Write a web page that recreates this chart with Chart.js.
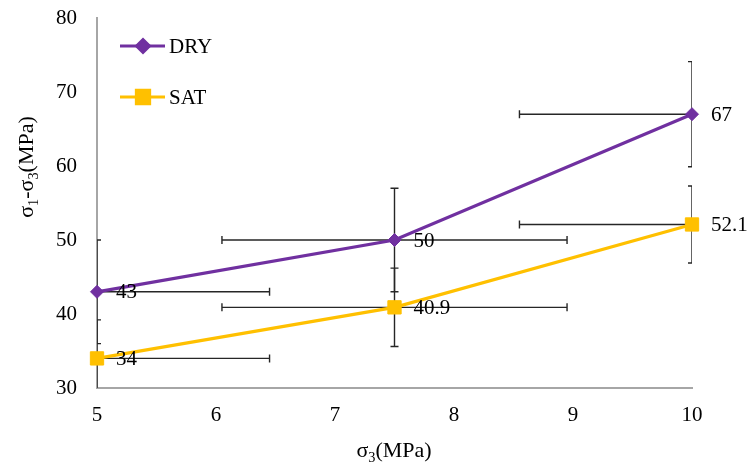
<!DOCTYPE html>
<html>
<head>
<meta charset="utf-8">
<script src="https://cdn.jsdelivr.net/npm/chart.js@4.4.0/dist/chart.umd.min.js"></script>
<style>
  html, body { margin: 0; padding: 0; background: #fff; }
</style>
</head>
<body>
<canvas id="chart" width="751" height="466"></canvas>
<script>
// data
const sigma3 = [5, 7.5, 10];
const dryValues = [43, 50, 67];
const satValues = [34, 40.9, 52.1];
const dryYErr = [7, 7, 7.1];
const satYErr = [5.2, 5.3, 5.2];
const xErr = [1.45, 1.45, 1.45];
const seriesLabels = ['DRY', 'SAT'];

const FONT = '"Liberation Serif", "Times New Roman", serif';
const TICK_SIZE = 21;
const TITLE_SIZE = 22;

const toPoints = (ys) => sigma3.map((x, i) => ({ x: x, y: ys[i] }));

// Error bars, drawn under the lines
const errorBarPlugin = {
    id: 'errorBars',
    beforeDatasetsDraw(chart) {
        const { ctx, chartArea, scales } = chart;
        const sets = [
            { ys: dryValues, err: dryYErr },
            { ys: satValues, err: satYErr },
        ];
        ctx.save();
        ctx.beginPath();
        ctx.rect(chartArea.left, chartArea.top, chartArea.right - chartArea.left, chartArea.bottom - chartArea.top);
        ctx.clip();
        ctx.strokeStyle = '#262626';
        ctx.lineWidth = 1.4;
        const cap = 4;
        sets.forEach(set => {
            sigma3.forEach((xv, i) => {
                const x = scales.x.getPixelForValue(xv);
                const y = scales.y.getPixelForValue(set.ys[i]);
                const yTop = scales.y.getPixelForValue(set.ys[i] + set.err[i]);
                const yBot = scales.y.getPixelForValue(set.ys[i] - set.err[i]);
                const xL = scales.x.getPixelForValue(xv - xErr[i]);
                const xR = scales.x.getPixelForValue(xv + xErr[i]);
                ctx.beginPath();
                // vertical
                ctx.moveTo(x, yTop); ctx.lineTo(x, yBot);
                ctx.moveTo(x - cap, yTop); ctx.lineTo(x + cap, yTop);
                ctx.moveTo(x - cap, yBot); ctx.lineTo(x + cap, yBot);
                // horizontal
                ctx.moveTo(xL, y); ctx.lineTo(xR, y);
                ctx.moveTo(xL, y - cap); ctx.lineTo(xL, y + cap);
                ctx.moveTo(xR, y - cap); ctx.lineTo(xR, y + cap);
                ctx.stroke();
            });
        });
        ctx.restore();
    }
};

// text with subscripts, parts = [[text, isSub], ...]
function drawSubText(ctx, parts, x, y, size, align) {
    const widths = parts.map(p => {
        ctx.font = (p[1] ? size * 0.65 : size) + 'px ' + FONT;
        return ctx.measureText(p[0]).width;
    });
    const total = widths.reduce((a, b) => a + b, 0);
    let cx = align === 'center' ? x - total / 2 : x;
    parts.forEach((p, i) => {
        ctx.font = (p[1] ? size * 0.65 : size) + 'px ' + FONT;
        ctx.fillText(p[0], cx, p[1] ? y + size * 0.22 : y);
        cx += widths[i];
    });
}

const decorPlugin = {
    id: 'decor',
    afterDatasetsDraw(chart) {
        const { ctx } = chart;
        ctx.save();
        ctx.fillStyle = '#000';
        ctx.font = TICK_SIZE + 'px ' + FONT;
        ctx.textAlign = 'left';
        ctx.textBaseline = 'middle';
        chart.data.datasets.forEach((ds, di) => {
            const meta = chart.getDatasetMeta(di);
            meta.data.forEach((pt, i) => {
                ctx.fillText(String(ds.data[i].y), pt.x + 19, pt.y + 1);
            });
        });

        // legend
        const legendY = [46, 97];
        chart.data.datasets.forEach((ds, di) => {
            const y = legendY[di];
            ctx.strokeStyle = ds.borderColor;
            ctx.lineWidth = 3;
            ctx.beginPath();
            ctx.moveTo(120, y);
            ctx.lineTo(165, y);
            ctx.stroke();
            ctx.fillStyle = ds.pointBackgroundColor;
            ctx.strokeStyle = ds.pointBackgroundColor;
            Chart.helpers.drawPoint(ctx, {
                pointStyle: ds.pointStyle,
                radius: ds.pointRadius,
                rotation: 0,
                borderWidth: 1
            }, 143, y);
            ctx.fillStyle = '#000';
            ctx.font = TICK_SIZE + 'px ' + FONT;
            ctx.textBaseline = 'middle';
            ctx.fillText(ds.label, 169, y + 1);
        });

        // axis titles
        ctx.textBaseline = 'alphabetic';
        ctx.textAlign = 'left';
        drawSubText(ctx, [['σ', false], ['3', true], ['(MPa)', false]], 394, 457, TITLE_SIZE, 'center');
        ctx.translate(33, 167);
        ctx.rotate(-Math.PI / 2);
        drawSubText(ctx, [['σ', false], ['1', true], ['-σ', false], ['3', true], ['(MPa)', false]], 0, 0, TITLE_SIZE, 'center');
        ctx.restore();
    }
};

new Chart(document.getElementById('chart').getContext('2d'), {
    type: 'line',
    data: {
        datasets: [
            {
                label: seriesLabels[0],
                data: toPoints(dryValues),
                borderColor: '#7030A0',
                backgroundColor: '#7030A0',
                pointBackgroundColor: '#7030A0',
                pointBorderColor: '#7030A0',
                pointStyle: 'rectRot',
                pointRadius: 6.5,
                pointBorderWidth: 1,
                borderWidth: 3.2,
                tension: 0,
                clip: false
            },
            {
                label: seriesLabels[1],
                data: toPoints(satValues),
                borderColor: '#FFC000',
                backgroundColor: '#FFC000',
                pointBackgroundColor: '#FFC000',
                pointBorderColor: '#FFC000',
                pointStyle: 'rect',
                pointRadius: 9.4,
                pointBorderWidth: 1,
                borderWidth: 3.2,
                tension: 0,
                clip: false
            }
        ]
    },
    options: {
        responsive: false,
        animation: false,
        devicePixelRatio: 1,
        layout: { padding: { top: 18, right: 59, left: 0, bottom: 0 } },
        plugins: {
            legend: { display: false },
            tooltip: { enabled: false }
        },
        scales: {
            x: {
                type: 'linear',
                min: 5,
                max: 10,
                ticks: { stepSize: 1, color: '#000', padding: 15, font: { family: FONT, size: TICK_SIZE } },
                grid: { display: false, drawTicks: false },
                border: { display: true, color: '#a6a6a6', width: 2 },
                afterFit(scale) { scale.height = 78; }
            },
            y: {
                type: 'linear',
                min: 30,
                max: 80,
                ticks: { stepSize: 10, color: '#000', padding: 20, font: { family: FONT, size: TICK_SIZE } },
                grid: { display: false, drawTicks: false },
                border: { display: true, color: '#a6a6a6', width: 2 },
                afterFit(scale) {
                    scale.width = 97;
                    // label padding would otherwise push the plot down
                    scale.paddingTop = 0;
                    scale.paddingBottom = 0;
                }
            }
        }
    },
    plugins: [errorBarPlugin, decorPlugin]
});
</script>
</body>
</html>
